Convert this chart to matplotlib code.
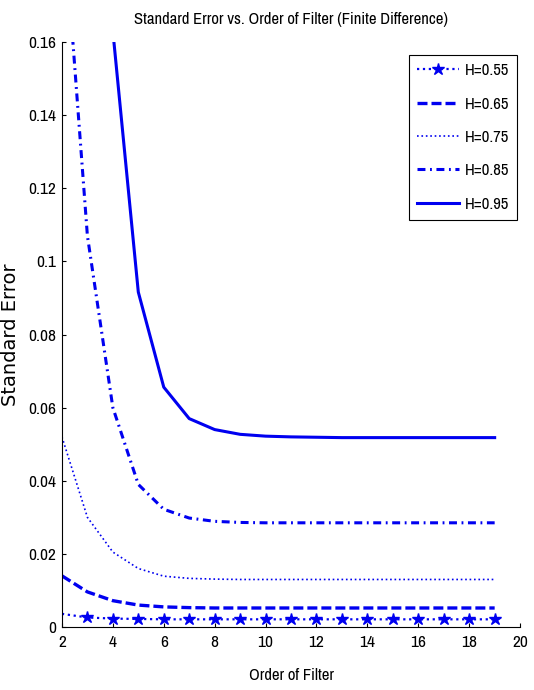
import matplotlib
matplotlib.use("Agg")
import matplotlib.pyplot as plt

# order of filter
orders = list(range(2, 20))

# standard error for each Hurst value
h055 = [0.0036, 0.0026, 0.0023, 0.0022, 0.0021, 0.0021, 0.0021, 0.0021, 0.0021,
        0.0021, 0.0021, 0.0021, 0.0021, 0.0021, 0.0021, 0.0021, 0.0021, 0.0021]
h065 = [0.0140, 0.0096, 0.0072, 0.0060, 0.0055, 0.0053, 0.0052, 0.0052, 0.0052,
        0.0052, 0.0052, 0.0052, 0.0052, 0.0052, 0.0052, 0.0052, 0.0052, 0.0052]
h075 = [0.0520, 0.0300, 0.0205, 0.0160, 0.0139, 0.0133, 0.0131, 0.0130, 0.0130,
        0.0130, 0.0130, 0.0130, 0.0130, 0.0130, 0.0130, 0.0130, 0.0130, 0.0130]
h085 = [0.2000, 0.1070, 0.0600, 0.0390, 0.0322, 0.0298, 0.0289, 0.0286, 0.0285,
        0.0285, 0.0285, 0.0285, 0.0285, 0.0285, 0.0285, 0.0285, 0.0285, 0.0285]
h095 = [0.5000, 0.2800, 0.1630, 0.0916, 0.0656, 0.0570, 0.0540, 0.0527, 0.0522,
        0.0520, 0.0519, 0.0518, 0.0518, 0.0518, 0.0518, 0.0518, 0.0518, 0.0518]

labels = ["H=0.55", "H=0.65", "H=0.75", "H=0.85", "H=0.95"]
xticks = [2, 4, 6, 8, 10, 12, 14, 16, 18, 20]
yticks = [0, 0.02, 0.04, 0.06, 0.08, 0.1, 0.12, 0.14, 0.16]
ytick_labels = ["0", "0.02", "0.04", "0.06", "0.08", "0.1", "0.12", "0.14", "0.16"]

# narrow face like the matlab screen font, with fallbacks
plt.rcParams["font.family"] = ["Liberation Sans Narrow", "Archivo Narrow", "Roboto Condensed",
                               "Sofia Sans Condensed", "Liberation Sans", "DejaVu Sans"]

blue = "#0000f0"

fig = plt.figure(figsize=(5.34, 6.90), dpi=100)
ax = fig.add_axes([0.116, 0.0913, 0.858, 0.8478])

ax.plot(orders, h055, color=blue, linestyle=":", linewidth=1.6,
        marker="*", markersize=9, markevery=list(range(1, len(orders))), label=labels[0])
ax.plot(orders, h065, color=blue, linestyle=(0, (3, 1.2)), linewidth=2.4, label=labels[1])
ax.plot(orders, h075, color=blue, linestyle=":", linewidth=1.2, label=labels[2])
ax.plot(orders, h085, color=blue, linestyle=(0, (2.6, 1.5, 0.6, 1.5)), linewidth=2.2, label=labels[3])
ax.plot(orders, h095, color=blue, linestyle="-", linewidth=2.2, label=labels[4])

ax.set_xlim(2, 20)
ax.set_ylim(0, 0.16)
ax.set_xticks(xticks)
ax.set_yticks(yticks)
ax.set_yticklabels(ytick_labels)
ax.tick_params(direction="in", length=3, width=0.8, labelsize=12.5)
ax.tick_params(axis="x", pad=6)
ax.tick_params(axis="y", pad=4)

ax.spines["top"].set_visible(False)
ax.spines["right"].set_visible(False)

ax.set_title("Standard Error vs. Order of Filter (Finite Difference)", fontsize=12, pad=13)
ax.set_xlabel("Order of Filter", fontsize=12, labelpad=13)
ax.set_ylabel("Standard Error", fontsize=14, family="DejaVu Sans", labelpad=6)

leg = ax.legend(loc="upper right", bbox_to_anchor=(0.9935, 0.978), borderaxespad=0,
                fancybox=False, framealpha=1, edgecolor="black", fontsize=12,
                handlelength=2.5, labelspacing=1.1, borderpad=0.5, handletextpad=0.35)
leg.get_frame().set_linewidth(0.8)

fig.savefig("out.png", dpi=100)
